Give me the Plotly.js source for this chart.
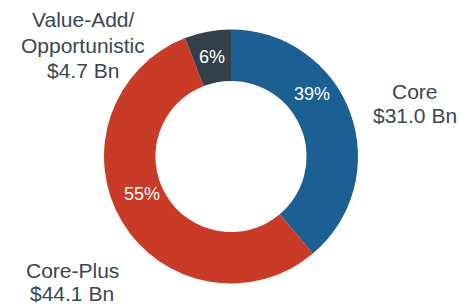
<!DOCTYPE html>
<html>
<head>
<meta charset="utf-8">
<script src="https://cdn.plot.ly/plotly-3.0.1.min.js"></script>
<style>html,body{margin:0;padding:0;background:#fff;}#chart{width:460px;height:304px;}</style>
</head>
<body>
<div id="chart"></div>
<script>
var categories = ["Core", "Core-Plus", "Value-Add/\nOpportunistic"];
var values = [31.0, 44.1, 4.7];
var valueLabels = ["$31.0 Bn", "$44.1 Bn", "$4.7 Bn"];
var colors = ["#1b5f93", "#c93a27", "#333f4a"];

var W = 460, H = 304;
function px(x) { return x / W; }
function py(y) { return 1 - y / H; }

var total = values.reduce(function (a, b) { return a + b; }, 0);
var pcts = values.map(function (v) { return Math.round(v / total * 100) + "%"; });

// label line positions (pixel centers) for each category
var labelPos = [
  { x: 415, ys: [92, 115] },
  { x: 72, ys: [270, 293] },
  { x: 83, ys: [20, 45, 70] }
];
var pctPos = [[312, 94], [142, 194], [212, 57]];

var annotations = [];
categories.forEach(function (c, i) {
  var lines = c.split("\n").concat([valueLabels[i]]);
  lines.forEach(function (t, j) {
    annotations.push({
      text: t, x: px(labelPos[i].x), y: py(labelPos[i].ys[j]),
      xref: "paper", yref: "paper", xanchor: "center", yanchor: "middle",
      showarrow: false, font: { family: "Liberation Sans, Arial, sans-serif", size: 21, color: "#3a4754" }
    });
  });
  annotations.push({
    text: pcts[i], x: px(pctPos[i][0]), y: py(pctPos[i][1]),
    xref: "paper", yref: "paper", xanchor: "center", yanchor: "middle",
    showarrow: false, font: { family: "Liberation Sans, Arial, sans-serif", size: 18, color: "#ffffff" }
  });
});

var data = [{
  type: "pie",
  labels: categories,
  values: values,
  marker: { colors: colors, line: { width: 0 } },
  hole: 0.595,
  sort: false,
  direction: "clockwise",
  rotation: 0,
  textinfo: "none",
  hoverinfo: "none",
  domain: { x: [px(104), px(358)], y: [py(283.5), py(29.5)] }
}];

var layout = {
  width: W, height: H,
  margin: { l: 0, r: 0, t: 0, b: 0 },
  paper_bgcolor: "#ffffff",
  showlegend: false,
  annotations: annotations
};

Plotly.newPlot("chart", data, layout, { displayModeBar: false, staticPlot: true });
</script>
</body>
</html>
